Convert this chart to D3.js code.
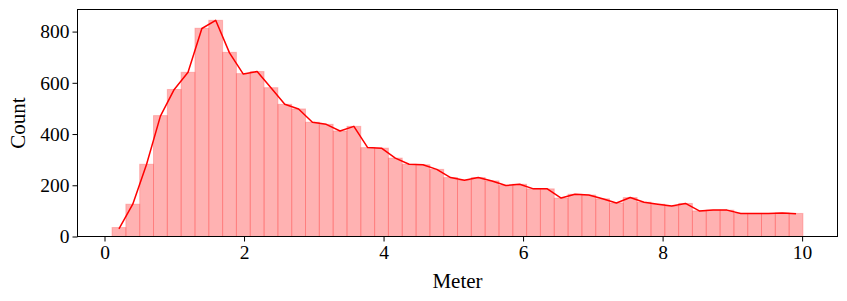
<!DOCTYPE html>
<html>
<head>
<meta charset="utf-8">
<script src="https://cdn.jsdelivr.net/npm/d3@7"></script>
<style>
  body { margin: 0; background: #fff; }
  text { font-family: "Liberation Serif", "Times New Roman", serif; fill: #000; }
</style>
</head>
<body>
<svg id="chart" width="847" height="301"></svg>
<script>
// ---- data ----
const binStart = 0.108;
const binEnd = 10.012;
const counts = [35, 126, 282, 472, 574, 641, 813, 844, 719, 636,
                644, 581, 516, 498, 446, 438, 412, 430, 347, 345,
                306, 282, 280, 262, 230, 220, 230, 217, 199, 204,
                186, 186, 150, 165, 162, 147, 131, 152, 134, 126,
                119, 129, 100, 103, 103, 90, 90, 90, 92, 90];
const lineCounts = [30, 126, 282, 470, 574, 641, 812, 844, 717, 634,
                    644, 581, 516, 498, 446, 438, 412, 430, 347, 345,
                    306, 282, 280, 262, 230, 220, 230, 217, 199, 204,
                    186, 186, 150, 165, 162, 147, 131, 152, 134, 126,
                    119, 129, 100, 103, 103, 90, 90, 90, 92, 89];
const xTicks = [0, 2, 4, 6, 8, 10];
const yTicks = [0, 200, 400, 600, 800];
const xLabel = "Meter";
const yLabel = "Count";

// ---- layout ----
const mLeft = 77.5, mRight = 837.5, mTop = 9.5, mBottom = 236.5;
const svg = d3.select("#chart");

const n = counts.length;
const bw = (binEnd - binStart) / n;
const span = binEnd - binStart;
const x = d3.scaleLinear()
  .domain([binStart - span * 0.05, binEnd + span * 0.05])
  .range([mLeft, mRight]);
const yMax = d3.max(counts) * 1.05;
const y = d3.scaleLinear().domain([0, yMax]).range([mBottom, mTop]);

const bins = counts.map((c, i) => ({ x0: binStart + i * bw, x1: binStart + (i + 1) * bw, c }));

// bars
svg.append("g").selectAll("rect").data(bins).join("rect")
  .attr("x", d => x(d.x0))
  .attr("y", d => y(d.c))
  .attr("width", d => x(d.x1) - x(d.x0))
  .attr("height", d => y(0) - y(d.c))
  .attr("fill", "rgba(255,0,0,0.3)")
  .attr("stroke", "rgba(255,90,90,0.35)")
  .attr("stroke-width", 1);

// line
const line = d3.line()
  .x((d, i) => x(binStart + (i + 0.5) * bw))
  .y(d => y(d));
svg.append("path").datum(lineCounts)
  .attr("d", line)
  .attr("fill", "none")
  .attr("stroke", "#ff0000")
  .attr("stroke-width", 1.5)
  .attr("stroke-linejoin", "round");

// axes
const xAxis = d3.axisBottom(x).tickValues(xTicks).tickSize(5).tickPadding(4).tickFormat(d3.format("d"));
const yAxis = d3.axisLeft(y).tickValues(yTicks).tickSize(5).tickPadding(3).tickFormat(d3.format("d"));

const gx = svg.append("g").attr("transform", `translate(0,${mBottom})`).call(xAxis);
const gy = svg.append("g").attr("transform", `translate(${mLeft},0)`).call(yAxis);
[gx, gy].forEach(g => {
  g.select(".domain").remove();
  g.selectAll("line").attr("stroke", "#000").attr("stroke-width", 1);
  g.selectAll("text").style("font-size", "19.5px").style("font-family", '"Liberation Serif", serif').attr("fill", "#000");
});

// frame
svg.append("rect")
  .attr("x", mLeft).attr("y", mTop)
  .attr("width", mRight - mLeft).attr("height", mBottom - mTop)
  .attr("fill", "none").attr("stroke", "#000").attr("stroke-width", 1);

// labels
svg.append("text")
  .attr("x", (mLeft + mRight) / 2).attr("y", 288)
  .attr("text-anchor", "middle")
  .style("font-size", "21px")
  .text(xLabel);
svg.append("text")
  .attr("transform", `translate(25,${(mTop + mBottom) / 2}) rotate(-90)`)
  .attr("text-anchor", "middle")
  .style("font-size", "21px")
  .text(yLabel);
</script>
</body>
</html>
